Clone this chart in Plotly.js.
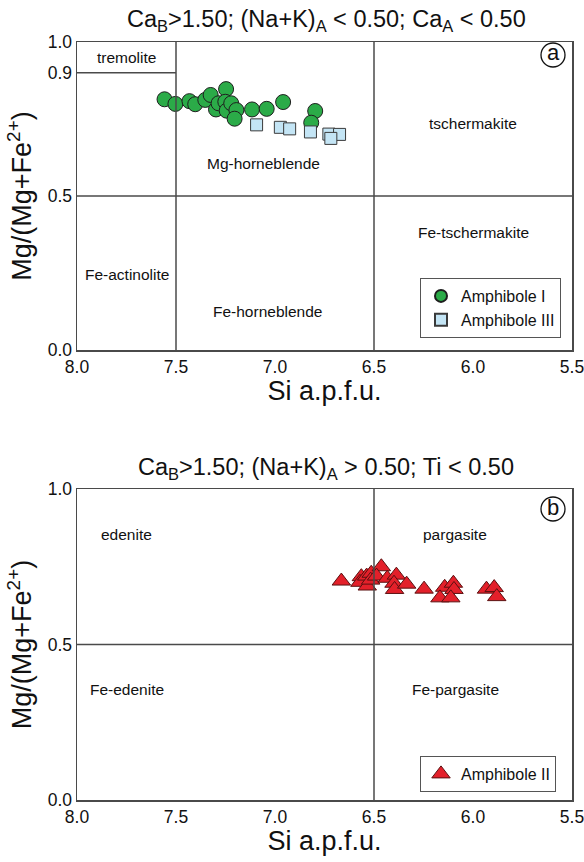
<!DOCTYPE html>
<html>
<head>
<meta charset="utf-8">
<script src="https://cdn.plot.ly/plotly-3.0.1.min.js"></script>
<style>body{margin:0;padding:0;background:#fff}#chart{width:584px;height:862px}</style>
</head>
<body>
<div id="chart"></div>
<script>
// Panel a — Amphibole I (circles)
const amp1_si = [7.558,7.503,7.432,7.403,7.352,7.325,7.298,7.285,7.247,7.251,7.244,7.221,7.195,7.204,7.116,7.042,6.959,6.797,6.817];
const amp1_mg = [0.814,0.799,0.808,0.798,0.812,0.828,0.781,0.801,0.847,0.806,0.777,0.801,0.779,0.751,0.781,0.783,0.805,0.776,0.738];
// Panel a — Amphibole III (squares)
const amp3_si = [7.093,6.973,6.926,6.821,6.728,6.674,6.718];
const amp3_mg = [0.731,0.723,0.718,0.708,0.701,0.700,0.687];
// Panel b — Amphibole II (triangles)
const amp2_si = [6.665,6.564,6.571,6.537,6.534,6.514,6.517,6.463,6.487,6.433,6.387,6.399,6.396,6.335,6.247,6.143,6.099,6.096,6.167,6.112,5.932,5.893,5.880];
const amp2_mg = [0.704,0.718,0.700,0.720,0.688,0.729,0.707,0.750,0.720,0.713,0.723,0.697,0.677,0.694,0.678,0.684,0.697,0.677,0.650,0.650,0.678,0.683,0.654];

const xTicks = [8.0,7.5,7.0,6.5,6.0,5.5];
const xTickText = ['8.0','7.5','7.0','6.5','6.0','5.5'];
const yTicksA = [0,0.5,0.9,1.0];
const yTickTextA = ['0.0','0.5','0.9','1.0'];
const yTicksB = [0,0.5,1.0];
const yTickTextB = ['0.0','0.5','1.0'];

const titleA = 'Ca<sub>B</sub>>1.50; (Na+K)<sub>A</sub> < 0.50; Ca<sub>A</sub> < 0.50';
const titleB = 'Ca<sub>B</sub>>1.50; (Na+K)<sub>A</sub> > 0.50; Ti < 0.50';
const yTitle = 'Mg/(Mg+Fe<sup>2+</sup>)';
const xTitle = 'Si a.p.f.u.';

const fieldsA = [
  {x:7.75, y:0.95, t:'tremolite'},
  {x:6.0, y:0.735, t:'tschermakite'},
  {x:7.06, y:0.605, t:'Mg-horneblende'},
  {x:6.0, y:0.38, t:'Fe-tschermakite'},
  {x:7.75, y:0.245, t:'Fe-actinolite'},
  {x:7.04, y:0.125, t:'Fe-horneblende'}
];
const fieldsB = [
  {x:7.75, y:0.855, t:'edenite'},
  {x:6.09, y:0.855, t:'pargasite'},
  {x:7.75, y:0.355, t:'Fe-edenite'},
  {x:6.09, y:0.355, t:'Fe-pargasite'}
];

const FONT = 'Liberation Sans, Arial, sans-serif';
const LC = '#4a4a4a';

const traces = [
  {x:amp1_si, y:amp1_mg, xaxis:'x', yaxis:'y', mode:'markers', type:'scatter', name:'Amphibole I',
   marker:{symbol:'circle', size:15, color:'#2bab48', line:{color:'#1e1e1e', width:1}}, legend:'legend'},
  {x:amp3_si, y:amp3_mg, xaxis:'x', yaxis:'y', mode:'markers', type:'scatter', name:'Amphibole III',
   marker:{symbol:'square', size:12, color:'#c4e5f5', line:{color:'#3a3a3a', width:1}}, legend:'legend'},
  {x:amp2_si, y:amp2_mg, xaxis:'x2', yaxis:'y2', mode:'markers', type:'scatter', name:'Amphibole II',
   marker:{symbol:'triangle-up', size:16, color:'#e3202a', line:{color:'#5a1010', width:1}}, legend:'legend2'}
];

const xd = [77/584, 572/584];
const yda = [(862-350)/862, (862-42)/862];
const ydb = [(862-800)/862, (862-489)/862];

function xax(anchor){
  return {domain:xd, anchor:anchor, range:[8.0,5.5], tickvals:xTicks, ticktext:xTickText,
    showgrid:false, zeroline:false, showline:true, mirror:true, linecolor:LC, linewidth:1.5,
    ticks:'', ticklabeloverflow:'allow', tickfont:{family:FONT, size:17.5, color:'#111'},
    title:{text:xTitle, font:{family:FONT, size:27, color:'#111'}, standoff:3}};
}
function yax(anchor, dom, tv, tt){
  return {domain:dom, anchor:anchor, range:[0,1], tickvals:tv, ticktext:tt,
    showgrid:false, zeroline:false, showline:true, mirror:true, linecolor:LC, linewidth:1.5,
    ticks:'', ticklabelstandoff:0, ticklabeloverflow:'allow', tickfont:{family:FONT, size:17.5, color:'#111'},
    title:{text:yTitle, font:{family:FONT, size:27, color:'#111'}, standoff:8}};
}

const shapes = [];
function line(xr, yr, x0,y0,x1,y1){
  shapes.push({type:'line', xref:xr, yref:yr, x0:x0, y0:y0, x1:x1, y1:y1, line:{color:LC, width:1.5}});
}
line('x','y',7.5,0,7.5,1);
line('x','y',6.5,0,6.5,1);
line('x','y',8.0,0.5,5.5,0.5);
line('x','y',8.0,0.9,7.5,0.9);
line('x2','y2',6.5,0,6.5,1);
line('x2','y2',8.0,0.5,5.5,0.5);
// circled letters
shapes.push({type:'circle', xref:'paper', yref:'paper', x0:(541)/584, x1:(565)/584, y0:(862-67)/862, y1:(862-43)/862, line:{color:'#111', width:1.3}});
shapes.push({type:'circle', xref:'paper', yref:'paper', x0:(541)/584, x1:(565)/584, y0:(862-521)/862, y1:(862-497)/862, line:{color:'#111', width:1.3}});

const annotations = [];
const fieldFont = {family:FONT, size:15.5, color:'#111'};
fieldsA.forEach(f=>annotations.push({x:f.x, y:f.y, xref:'x', yref:'y', text:f.t, showarrow:false, xanchor:'center', yanchor:'middle', font:fieldFont}));
fieldsB.forEach(f=>annotations.push({x:f.x, y:f.y, xref:'x2', yref:'y2', text:f.t, showarrow:false, xanchor:'center', yanchor:'middle', font:fieldFont}));
annotations.push({x:553/584, y:(862-55)/862, xref:'paper', yref:'paper', text:'a', showarrow:false, xanchor:'center', yanchor:'middle', font:{family:FONT, size:22, color:'#111'}, yshift:2});
annotations.push({x:553/584, y:(862-509)/862, xref:'paper', yref:'paper', text:'b', showarrow:false, xanchor:'center', yanchor:'middle', font:{family:FONT, size:22, color:'#111'}, yshift:1});
annotations.push({x:326/584, y:(862-20)/862, xref:'paper', yref:'paper', text:titleA, showarrow:false, xanchor:'center', yanchor:'middle', font:{family:FONT, size:23.5, color:'#111'}});
annotations.push({x:326/584, y:(862-468)/862, xref:'paper', yref:'paper', text:titleB, showarrow:false, xanchor:'center', yanchor:'middle', font:{family:FONT, size:23.5, color:'#111'}});

const layout = {
  width:584, height:862, margin:{l:0,r:0,t:0,b:0}, paper_bgcolor:'#fff', plot_bgcolor:'#fff',
  xaxis:xax('y'), yaxis:yax('x', yda, yTicksA, yTickTextA),
  xaxis2:xax('y2'), yaxis2:yax('x2', ydb, yTicksB, yTickTextB),
  shapes:shapes, annotations:annotations,
  legend:{x:420/584, y:(862-278)/862, xanchor:'left', yanchor:'top', bgcolor:'#fff', bordercolor:'#555', borderwidth:1,
    font:{family:FONT, size:16, color:'#111'}, tracegroupgap:0, itemsizing:'constant'},
  legend2:{x:420/584, y:(862-756)/862, xanchor:'left', yanchor:'top', bgcolor:'#fff', bordercolor:'#555', borderwidth:1,
    font:{family:FONT, size:16, color:'#111'}},
  showlegend:true
};

Plotly.newPlot('chart', traces, layout, {displayModeBar:false, staticPlot:true});
</script>
</body>
</html>
